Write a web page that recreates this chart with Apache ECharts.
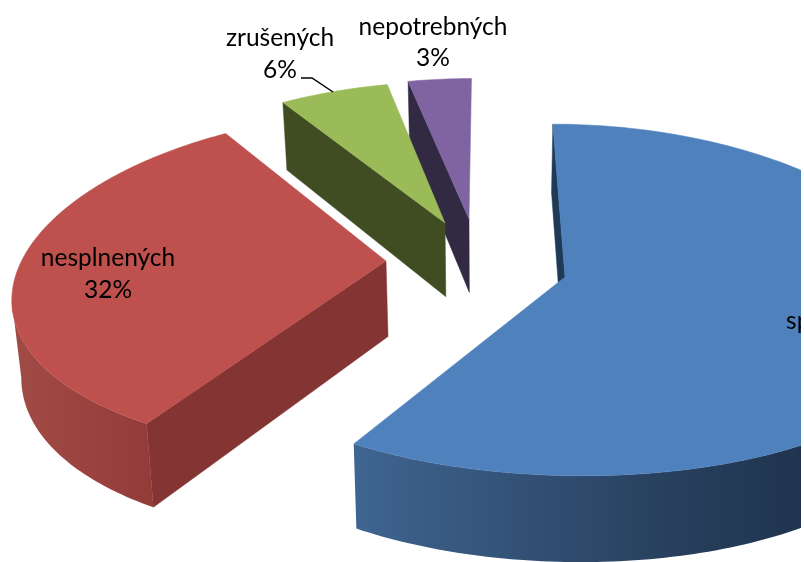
<!DOCTYPE html>
<html><head><meta charset="utf-8">
<style>html,body{margin:0;padding:0;background:#fff}#c{width:801px;height:562px;overflow:hidden}</style>
<script src="https://cdn.jsdelivr.net/npm/echarts@6/dist/echarts.min.js"></script>
</head><body><div id="c"></div>
<script>
// Data
const categories = ['splnených', 'nesplnených', 'zrušených', 'nepotrebných'];
const values = [58.6, 32.2, 5.8, 3.4];
const percentLabels = ['59%', '32%', '6%', '3%'];

// Styling and layout
const topColors = ['#4F81BD', '#BE504D', '#9BBB59', '#8064A2'];
const edgeColors = ['#1F3A57', '#833433', '#404D22', '#322943'];
const arcStops = [
  {x0: 352, x1: 801, stops: [[0, '#3F6591'], [0.64, '#2A4362'], [1, '#1F344E']]},
  {x0: 22, x1: 155, stops: [[0, '#A04A45'], [1, '#933B39']]},
  {x0: 285, x1: 385, stops: [[0, '#404D22'], [1, '#404D22']]},
  {x0: 407, x1: 470, stops: [[0, '#322943'], [1, '#322943']]}
];
const apexes = [[565, 277], [386, 261], [445, 223], [469, 219]];
const labelPos = [[840, 321, 353], [108, 258, 290], [280, 38, 70], [433, 27, 58]];
const drawOrder = [3, 2, 1, 0];
const CX = 486, CY = 270, KX = 368, MY = 171, PX = 0.18, PY = 0.13;
const FONT = '24.5px Lato, "Noto Sans", sans-serif';

function project(X, Y) {
  return [CX + KX * X / (1 + PX * Y), CY - MY * Y / (1 + PY * Y)];
}
function drop(p) {
  return [p[0] + (CX - p[0]) * 0.02, p[1] + 76 + 0.05 * (p[1] - CY)];
}
const total = values.reduce((a, b) => a + b, 0);
let acc = 0;
const spans = values.map(v => { const s = acc; acc += v / total * 360; return [s, acc]; });

function renderItem(params, api) {
  const i = api.value(0);
  const [ax, ay] = apexes[i];
  const d = CY - ay;
  const Y0 = d / (MY - PY * d);
  const X0 = (ax - CX) * (1 + PX * Y0) / KX;
  const [a0, a1] = spans[i];
  const arc = [];
  const n = Math.ceil(a1 - a0);
  for (let t = 0; t <= n; t++) {
    const a = (a0 + (a1 - a0) * t / n) * Math.PI / 180;
    arc.push(project(X0 + Math.sin(a), Y0 + Math.cos(a)));
  }
  const apex = [ax, ay];
  const children = [];
  // flat side faces turned to the viewer
  [[apex, arc[0]], [arc[arc.length - 1], apex]].forEach(([p, q]) => {
    if (q[0] < p[0] - 6) {
      children.push({type: 'polygon', shape: {points: [p, q, drop(q), drop(p)]},
        style: {fill: edgeColors[i], stroke: edgeColors[i], lineWidth: 0.5}, z2: 1});
    }
  });
  // rounded side: the stretch where the rim runs right to left
  let run = [];
  for (let t = 1; t < arc.length; t++) {
    if (arc[t][0] < arc[t - 1][0]) {
      if (!run.length) run.push(arc[t - 1]);
      run.push(arc[t]);
    }
  }
  if (run.length > 1) {
    const g = arcStops[i];
    children.push({type: 'polygon',
      shape: {points: run.concat(run.map(drop).reverse())},
      style: {fill: {type: 'linear', global: true, x: g.x0, y: 0, x2: g.x1, y2: 0,
        colorStops: g.stops.map(s => ({offset: s[0], color: s[1]}))}}, z2: 2});
  }
  children.push({type: 'polygon', shape: {points: [apex].concat(arc)},
    style: {fill: topColors[i], stroke: topColors[i], lineWidth: 0.5}, z2: 3});
  const [lx, ly1, ly2] = labelPos[i];
  children.push({type: 'text', z2: 5, style: {text: categories[i], x: lx, y: ly1, font: FONT,
    fill: '#000', align: 'center', verticalAlign: 'middle'}});
  children.push({type: 'text', z2: 5, style: {text: percentLabels[i], x: lx, y: ly2, font: FONT,
    fill: '#000', align: 'center', verticalAlign: 'middle'}});
  if (i === 2) {
    children.push({type: 'polyline', z2: 4, shape: {points: [[301, 78], [312, 78], [333, 92]]},
      style: {stroke: '#000', lineWidth: 1.5, fill: null}});
  }
  return {type: 'group', children};
}

const chart = echarts.init(document.getElementById('c'), null, {renderer: 'canvas'});
chart.setOption({
  backgroundColor: '#fff',
  animation: false,
  series: [{
    type: 'custom',
    coordinateSystem: 'none',
    silent: true,
    renderItem,
    data: drawOrder.map(i => [i, values[i]])
  }]
});
</script></body></html>
